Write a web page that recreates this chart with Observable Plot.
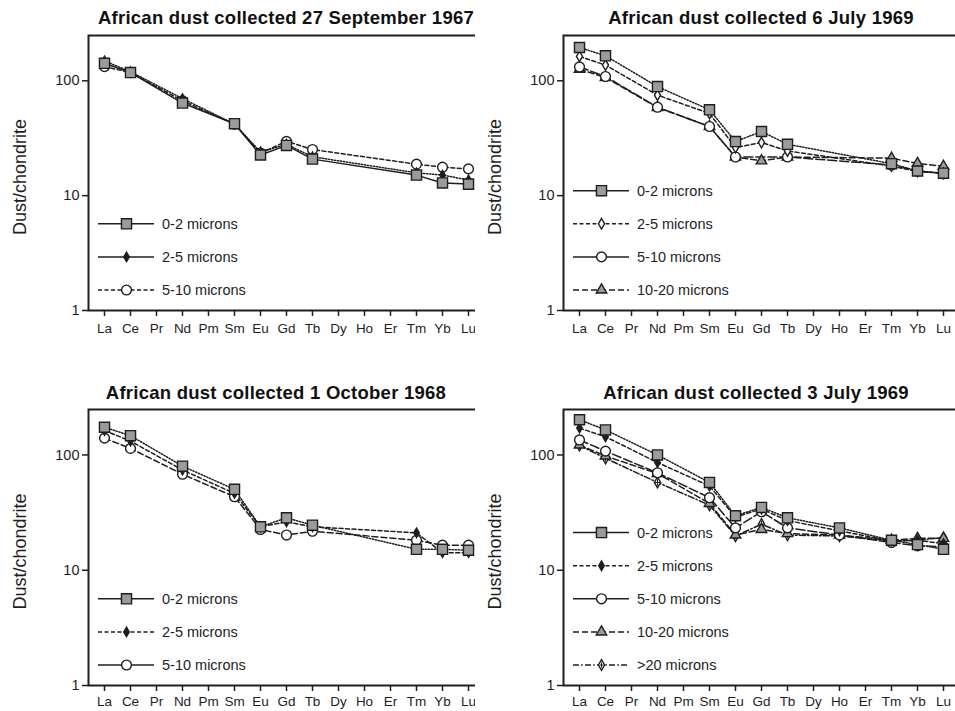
<!DOCTYPE html>
<html><head><meta charset="utf-8">
<script src="https://cdn.jsdelivr.net/npm/d3@7"></script>
<script src="https://cdn.jsdelivr.net/npm/@observablehq/plot@0.6"></script>
<style>
html,body{margin:0;padding:0;background:#fff}
body{width:955px;height:711px;overflow:hidden;font-family:"Liberation Sans",Arial,Helvetica,sans-serif}
#wrap{position:relative;width:955px;height:711px;overflow:hidden}
.plotbox{position:absolute}
.plotbox svg{max-width:none !important;display:block}
.title{position:absolute;font-weight:bold;font-size:18.5px;letter-spacing:0.25px;line-height:20px;text-align:center;white-space:nowrap;color:#111}
</style></head><body><div id="wrap"></div>
<script>
// ---- data ----
const elements = ["La","Ce","Pr","Nd","Pm","Sm","Eu","Gd","Tb","Dy","Ho","Er","Tm","Yb","Lu"];
const yTicks = [1, 10, 100];
const yLabel = "Dust/chondrite";
const sizeLabels = ["0-2 microns", "2-5 microns", "5-10 microns", "10-20 microns", ">20 microns"];
const titles = [
  "African dust collected 27 September 1967",
  "African dust collected 6 July 1969",
  "African dust collected 1 October 1968",
  "African dust collected 3 July 1969"
];
// values in element order (null = not measured)
//                     La   Ce   Pr  Nd    Pm   Sm    Eu    Gd    Tb    Dy   Ho    Er   Tm    Yb    Lu
const sep1967_0_2  = [142, 118, null, 64,  null, 42.3, 22.6, 27.4, 20.8, null, null, null, 15.1, 12.9, 12.6];
const sep1967_2_5  = [149, 120, null, 70,  null, 42,   24,   28,   21.8, null, null, null, 15.8, 15.1, 13.7];
const sep1967_5_10 = [133, 118, null, 67,  null, 42,   23.5, 29.7, 25.2, null, null, null, 18.8, 17.7, 17.1];

const jul1969a_0_2   = [195, 165, null, 89,   null, 55.9, 29.6, 36.2, 28,   null, null, null, 19,   16.4, 15.7];
const jul1969a_2_5   = [163, 137, null, 75,   null, 52,   26.2, 29,   24.5, null, null, null, 18.1, 16.2, 15.7];
const jul1969a_5_10  = [132, 109, null, 58.9, null, 40,   21.7, null, 21.7, null, null, null, 18.5, 16.4, 15.5];
const jul1969a_10_20 = [126, 107, null, 58.6, null, 40,   21.7, 20.1, 21.7, null, null, null, 21.2, 19.1, 18.0];

const oct1968_0_2  = [174, 147, null, 80, null, 50.3, 23.8, 28.5, 24.6, null, null, null, 15.2, 15.2, 14.9];
const oct1968_2_5  = [163, 132, null, 74, null, 46.4, 23.8, 26.3, 23.8, null, null, null, 21.1, 14.2, 14.2];
const oct1968_5_10 = [140, 114, null, 68, null, 43.4, 22.6, 20.2, 21.8, null, null, null, 18.2, 16.5, 16.5];

const jul1969b_0_2   = [202, 165, null, 100, null, 57.8, 29.7, 35.1, 28.5, null, 23.3, null, 18.2, 16.7, 15.2];
const jul1969b_2_5   = [171, 144, null, 86,  null, 53.8, 28.9, 34,   27,   null, 22,   null, 17.9, 18.2, 17.0];
const jul1969b_5_10  = [135, 108, null, 70,  null, 42.6, 23.3, 32.2, 23.3, null, 20.2, null, 17.4, 16.3, 16.0];
const jul1969b_10_20 = [122, 98,  null, 69,  null, 38,   20.2, 22.6, 20.8, null, 20.2, null, 18.2, 18.9, 18.9];
const jul1969b_gt20  = [121, 93.5,null, 57.8,null, 36.7, 19.8, 25.1, 20.2, null, 19.8, null, 17.9, 18.2, 19.2];

// ---- styles ----
const INK = "#1e1e1e";
const markers = {
  sq:   {symbol: "square",   r: 5.7, fill: "#9b9b9b"},
  dia:  {symbol: "diamond",  r: 2.9, fill: INK},
  odia: {symbol: "diamond",  r: 3.2, fill: "#fff"},
  circ: {symbol: "circle",   r: 4.9, fill: "#fff"},
  tri:  {symbol: "triangle", r: 3.9, fill: "#9b9b9b"},
  xdia: {symbol: "diamond",  r: 3.3, fill: "#fff", plus: true}
};
const dashes = {solid: null, dot: "1.3,1.7", dash: "4,2.5", long: "9,3", long2: "6,3", dashdot: "6,2.2,1.6,2.2"};

const panels = [
  {title: titles[0], series: [
    {label: sizeLabels[0], values: sep1967_0_2,  m: "sq",   line: "solid", leg: "solid"},
    {label: sizeLabels[1], values: sep1967_2_5,  m: "dia",  line: "dot",   leg: "solid"},
    {label: sizeLabels[2], values: sep1967_5_10, m: "circ", line: "dash",  leg: "dash"}]},
  {title: titles[1], series: [
    {label: sizeLabels[0], values: jul1969a_0_2,   m: "sq",   line: "dot",   leg: "solid"},
    {label: sizeLabels[1], values: jul1969a_2_5,   m: "odia", line: "dash",  leg: "dash"},
    {label: sizeLabels[2], values: jul1969a_5_10,  m: "circ", line: "long",  leg: "solid"},
    {label: sizeLabels[3], values: jul1969a_10_20, m: "tri",  line: "long2", leg: "long2"}]},
  {title: titles[2], series: [
    {label: sizeLabels[0], values: oct1968_0_2,  m: "sq",   line: "dot",   leg: "solid"},
    {label: sizeLabels[1], values: oct1968_2_5,  m: "dia",  line: "dash",  leg: "dash"},
    {label: sizeLabels[2], values: oct1968_5_10, m: "circ", line: "long2", leg: "solid"}]},
  {title: titles[3], series: [
    {label: sizeLabels[0], values: jul1969b_0_2,   m: "sq",   line: "dot",     leg: "solid"},
    {label: sizeLabels[1], values: jul1969b_2_5,   m: "dia",  line: "dash",    leg: "dash"},
    {label: sizeLabels[2], values: jul1969b_5_10,  m: "circ", line: "long",    leg: "solid"},
    {label: sizeLabels[3], values: jul1969b_10_20, m: "tri",  line: "long2",   leg: "long2"},
    {label: sizeLabels[4], values: jul1969b_gt20,  m: "xdia", line: "dashdot", leg: "dashdot"}]}
];

// ---- layout ----
const layout = [
  {left: 0,   titleTop: 8,   titleShift: 0,   svgTop: 30,  height: 310, mt: 5, mb: 30, tp: 7},
  {left: 475, titleTop: 8,   titleShift: 0,   svgTop: 30,  height: 310, mt: 5, mb: 30, tp: 7},
  {left: 0,   titleTop: 383, titleShift: -10, svgTop: 404, height: 307, mt: 5, mb: 26, tp: 5},
  {left: 475, titleTop: 383, titleShift: -5,  svgTop: 404, height: 307, mt: 5, mb: 26, tp: 5}
];
const ML = 88, FRAMEW = 396, MR = 4;
const W = ML + FRAMEW + MR;

const symMap = {square: d3.symbolSquare, diamond: d3.symbolDiamond, circle: d3.symbolCircle, triangle: d3.symbolTriangle};

function legendMark(series) {
  return (index, scales, values, dims) => {
    const g = d3.create("svg:g");
    const n = series.length;
    const x0 = dims.marginLeft;
    const yb = dims.height - dims.marginBottom;
    series.forEach((s, i) => {
      const y = yb - 20 - (n - 1 - i) * 33.1;
      const mk = markers[s.m];
      g.append("line").attr("x1", x0 + 10).attr("x2", x0 + 66).attr("y1", y).attr("y2", y)
        .attr("stroke", INK).attr("stroke-width", 1.5)
        .attr("stroke-dasharray", dashes[s.leg]);
      g.append("path").attr("transform", `translate(${x0 + 38.5},${y})`)
        .attr("d", d3.symbol(symMap[mk.symbol], mk.r * mk.r * Math.PI)())
        .attr("fill", mk.fill).attr("stroke", INK).attr("stroke-width", 1.4);
      if (mk.plus) {
        g.append("path").attr("transform", `translate(${x0 + 38.5},${y})`)
          .attr("d", "M-2,0H2M0,-2.6V2.6").attr("stroke", INK).attr("stroke-width", 1);
      }
      g.append("text").attr("x", x0 + 74).attr("y", y).attr("dy", "0.35em")
        .attr("text-anchor", "start")
        .attr("font-size", 14.5).attr("fill", INK).text(s.label);
    });
    return g.node();
  };
}

const wrap = document.getElementById("wrap");
panels.forEach((p, k) => {
  const L = layout[k];
  const rows = [];
  p.series.forEach((s, si) => s.values.forEach((v, i) => {
    if (v != null) rows.push({el: elements[i], v, s: si});
  }));
  const marks = [
    Plot.axisX({tickSize: 6, tickPadding: L.tp, fontSize: 13.5, label: null, strokeWidth: 1.5}),
    Plot.axisY({ticks: yTicks, tickFormat: d => String(d), tickSize: 6, tickPadding: 3, fontSize: 14.5, label: null, strokeWidth: 1.5}),
    Plot.text([yLabel], {text: d => d, frameAnchor: "left", dx: -68, dy: 4, rotate: -90, fontSize: 18, fill: INK, textAnchor: "middle"})
  ];
  p.series.forEach((s, si) => {
    marks.push(Plot.line(rows.filter(r => r.s === si), {x: "el", y: "v", stroke: INK, strokeWidth: 1.5, strokeDasharray: dashes[s.line]}));
  });
  for (let si = p.series.length - 1; si >= 0; si--) {
    const s = p.series[si], mk = markers[s.m];
    const data = rows.filter(r => r.s === si);
    marks.push(Plot.dot(data, {x: "el", y: "v", symbol: () => mk.symbol, r: mk.r, fill: mk.fill, stroke: INK, strokeWidth: 1.4}));
    if (mk.plus) marks.push(Plot.dot(data, {x: "el", y: "v", symbol: () => "plus", r: 2.2, stroke: INK, strokeWidth: 1}));
  }
  marks.push(legendMark(p.series));
  marks.push(Plot.frame({stroke: INK, strokeWidth: 2}));

  const chart = Plot.plot({
    width: W, height: L.height,
    marginLeft: ML, marginRight: MR, marginTop: L.mt, marginBottom: L.mb,
    style: {fontFamily: "'Liberation Sans', Arial, sans-serif", color: INK, background: "#fff", overflow: "visible", maxWidth: "none"},
    x: {type: "point", domain: elements, padding: 0.5, axis: null},
    y: {type: "log", domain: [1, 248], axis: null},
    symbol: {type: "identity"},
    marks
  });
  const box = document.createElement("div");
  box.className = "plotbox";
  box.style.left = L.left + "px";
  box.style.top = L.svgTop + "px";
  box.style.width = W + "px";
  box.style.height = L.height + "px";
  box.appendChild(chart);
  wrap.appendChild(box);

  const t = document.createElement("div");
  t.className = "title";
  t.style.left = (L.left + ML - 40 + L.titleShift) + "px";
  t.style.width = (FRAMEW + 80) + "px";
  t.style.top = L.titleTop + "px";
  t.textContent = p.title;
  wrap.appendChild(t);
});
</script></body></html>
